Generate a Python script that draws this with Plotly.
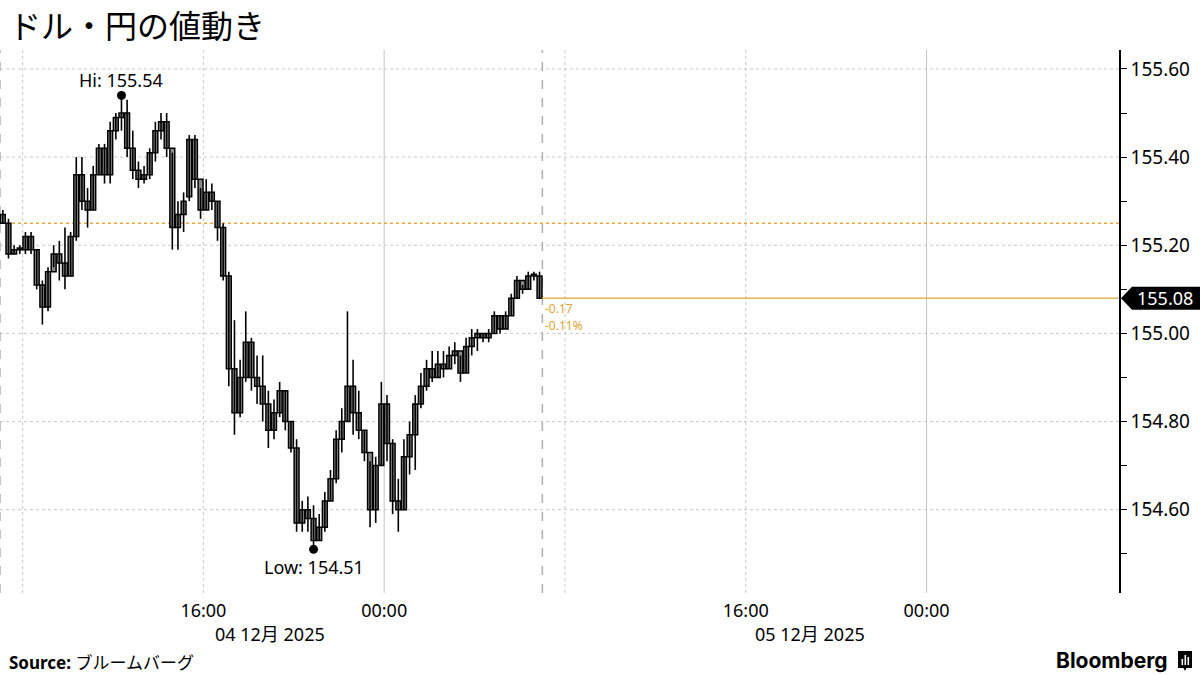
import plotly.graph_objects as go
import pandas as pd
import numpy as np

# ---------------- data (15-minute USD/JPY bars, 04 Dec 07:00 -> 05 Dec 07:00) ----------------
opens = [155.27, 155.25, 155.18, 155.19, 155.19, 155.22, 155.19, 155.11, 155.06, 155.14,
         155.18, 155.16, 155.13, 155.22, 155.36, 155.30, 155.28, 155.36, 155.42, 155.36,
         155.46, 155.49, 155.50, 155.42, 155.37, 155.35, 155.36, 155.41, 155.46, 155.48,
         155.42, 155.24, 155.27, 155.31, 155.44, 155.35, 155.28, 155.32, 155.30, 155.24,
         155.13, 154.92, 154.82, 154.90, 154.98, 154.90, 154.88, 154.84, 154.78, 154.82,
         154.87, 154.80, 154.74, 154.57, 154.60, 154.58, 154.53, 154.56, 154.62, 154.67,
         154.76, 154.80, 154.88, 154.82, 154.78, 154.73, 154.60, 154.70, 154.84, 154.75,
         154.62, 154.60, 154.72, 154.77, 154.84, 154.88, 154.92, 154.90, 154.93, 154.92,
         154.95, 154.96, 154.91, 154.97, 154.99, 155.00, 154.99, 155.00, 155.04, 155.01,
         155.04, 155.08, 155.12, 155.10, 155.13, 155.13]
highs = [155.28, 155.26, 155.20, 155.20, 155.23, 155.23, 155.19, 155.12, 155.15, 155.20,
         155.21, 155.24, 155.23, 155.40, 155.40, 155.33, 155.38, 155.43, 155.43, 155.48,
         155.50, 155.54, 155.53, 155.46, 155.39, 155.38, 155.42, 155.48, 155.50, 155.50,
         155.41, 155.30, 155.32, 155.45, 155.45, 155.33, 155.35, 155.34, 155.30, 155.25,
         155.14, 155.03, 154.94, 155.05, 154.99, 154.95, 154.95, 154.87, 154.85, 154.89,
         154.87, 154.80, 154.76, 154.62, 154.63, 154.61, 154.59, 154.64, 154.69, 154.78,
         154.83, 155.05, 154.94, 154.87, 154.78, 154.71, 154.72, 154.89, 154.86, 154.76,
         154.67, 154.76, 154.80, 154.86, 154.91, 154.94, 154.96, 154.96, 154.96, 154.97,
         154.98, 154.95, 154.99, 155.01, 155.01, 155.00, 155.01, 155.05, 155.04, 155.05,
         155.09, 155.13, 155.11, 155.14, 155.14, 155.14]
lows = [155.25, 155.17, 155.18, 155.18, 155.18, 155.18, 155.10, 155.02, 155.05, 155.15,
        155.12, 155.10, 155.13, 155.21, 155.28, 155.24, 155.28, 155.36, 155.34, 155.34,
        155.44, 155.46, 155.40, 155.35, 155.33, 155.34, 155.35, 155.39, 155.44, 155.40,
        155.19, 155.19, 155.23, 155.30, 155.33, 155.26, 155.28, 155.28, 155.21, 155.12,
        154.88, 154.77, 154.81, 154.89, 154.87, 154.84, 154.80, 154.74, 154.76, 154.81,
        154.78, 154.73, 154.55, 154.55, 154.55, 154.51, 154.53, 154.55, 154.62, 154.66,
        154.73, 154.80, 154.77, 154.76, 154.71, 154.56, 154.57, 154.70, 154.71, 154.59,
        154.55, 154.60, 154.68, 154.69, 154.83, 154.87, 154.89, 154.90, 154.90, 154.92,
        154.93, 154.89, 154.91, 154.95, 154.96, 154.98, 154.98, 155.00, 155.00, 155.01,
        155.04, 155.08, 155.09, 155.10, 155.12, 155.08]
closes = [155.25, 155.18, 155.19, 155.19, 155.22, 155.19, 155.11, 155.06, 155.14, 155.18,
          155.16, 155.13, 155.22, 155.36, 155.30, 155.28, 155.36, 155.42, 155.36, 155.46,
          155.49, 155.50, 155.42, 155.37, 155.35, 155.36, 155.41, 155.46, 155.48, 155.42,
          155.24, 155.27, 155.30, 155.44, 155.35, 155.28, 155.32, 155.30, 155.24, 155.13,
          154.92, 154.82, 154.90, 154.98, 154.90, 154.88, 154.84, 154.78, 154.82, 154.87,
          154.80, 154.74, 154.57, 154.60, 154.58, 154.53, 154.56, 154.62, 154.67, 154.76,
          154.80, 154.88, 154.82, 154.78, 154.73, 154.60, 154.70, 154.84, 154.75, 154.62,
          154.60, 154.72, 154.77, 154.84, 154.88, 154.92, 154.90, 154.93, 154.92, 154.95,
          154.96, 154.91, 154.97, 154.99, 155.00, 154.99, 155.00, 155.04, 155.01, 155.04,
          155.08, 155.12, 155.10, 155.13, 155.13, 155.08]

prev_close = 155.25
change_text = ["-0.17", "-0.11%"]
y_ticks = [154.60, 154.80, 155.00, 155.20, 155.40, 155.60]
y_minor = [154.50, 154.70, 154.90, 155.10, 155.30, 155.50]
x_ticks = ["2025-12-04 16:00", "2025-12-05 00:00", "2025-12-05 16:00", "2025-12-06 00:00"]
x_ticktext = ["16:00", "00:00", "16:00", "00:00"]
date_labels = ["04 12月 2025", "05 12月 2025"]
date_label_px = [270, 810]
session_lines = ["2025-12-04 07:00", "2025-12-05 07:00"]
dotted_vlines = ["2025-12-04 08:00", "2025-12-04 16:00", "2025-12-05 08:00", "2025-12-05 16:00"]
solid_vlines = ["2025-12-05 00:00", "2025-12-06 00:00"]

times = pd.date_range("2025-12-04 07:07:30", periods=len(closes), freq="15min")
last_time = pd.Timestamp("2025-12-05 06:58")
x_range = ["2025-12-04 07:00", "2025-12-06 08:31"]
y_range = [154.411, 155.643]

# ---------------- layout helpers (pixel -> paper) ----------------
W, H = 1200, 675
ML, MR, MT, MB = 0, 81, 50, 82
PW, PH = W - ML - MR, H - MT - MB


def px(x):
    return (x - ML) / PW


def py(y):
    return (H - MB - y) / PH


ORANGE_DOT = "#EBA53C"
ORANGE = "#DFA530"
GRID = "#c9c9c9"
FONT = "Noto Sans, Noto Sans CJK JP, sans-serif"

fig = go.Figure()

# wicks (high-low) as one line trace with gaps
wx, wy = [], []
for t, h, l in zip(times, highs, lows):
    wx += [t, t, None]
    wy += [h, l, None]
fig.add_trace(go.Scatter(x=wx, y=wy, mode="lines", line=dict(color="black", width=1.6),
                         hoverinfo="skip", showlegend=False, connectgaps=False))

# bodies
body_base = [min(o, c) for o, c in zip(opens, closes)]
body_h = [max(abs(c - o), 0.004) for o, c in zip(opens, closes)]
fig.add_trace(go.Bar(
    x=times, y=body_h, base=body_base, width=13 * 60 * 1000,
    marker=dict(color="#8a8a8a", line=dict(color="black", width=1.5)),
    hoverinfo="skip", showlegend=False,
))

# Hi / Low markers
hi_i = int(np.argmax(highs))
lo_i = int(np.argmin(lows))
fig.add_trace(go.Scatter(
    x=[times[hi_i], times[lo_i]], y=[highs[hi_i], lows[lo_i]],
    mode="markers", marker=dict(color="black", size=9),
    hoverinfo="skip", showlegend=False,
))

shapes = []
for v in y_ticks:
    shapes.append(dict(type="line", xref="paper", yref="y", x0=0, x1=1, y0=v, y1=v,
                       line=dict(color=GRID, width=1, dash="dot"), layer="below"))
for t in dotted_vlines:
    shapes.append(dict(type="line", xref="x", yref="paper", x0=t, x1=t, y0=0, y1=1,
                       line=dict(color=GRID, width=1, dash="dot"), layer="below"))
for t in solid_vlines:
    shapes.append(dict(type="line", xref="x", yref="paper", x0=t, x1=t, y0=0, y1=1,
                       line=dict(color="#c4c4c4", width=1), layer="below"))
for t in session_lines:
    shapes.append(dict(type="line", xref="x", yref="paper", x0=t, x1=t, y0=0, y1=1,
                       line=dict(color="#b0b0b0", width=1.5, dash="dash"), layer="below"))
shapes.append(dict(type="line", xref="paper", yref="y", x0=0, x1=1, y0=prev_close, y1=prev_close,
                   line=dict(color=ORANGE_DOT, width=1.6, dash="dot"), layer="below"))
shapes.append(dict(type="line", xref="x", yref="y", x0=last_time, x1=x_range[1],
                   y0=closes[-1], y1=closes[-1], line=dict(color=ORANGE, width=1.2)))
half = 11.5 / PH * (y_range[1] - y_range[0])
tip, shoulder, right = px(1121), px(1132), px(1200)
yl = closes[-1]
shapes.append(dict(type="path", xref="paper", yref="y",
                   path=f"M {tip},{yl} L {shoulder},{yl + half} L {right},{yl + half} "
                        f"L {right},{yl - half} L {shoulder},{yl - half} Z",
                   fillcolor="black", line=dict(width=0)))
# Bloomberg icon
shapes.append(dict(type="rect", xref="paper", yref="paper", x0=px(1178), x1=px(1192),
                   y0=py(668), y1=py(651), fillcolor="black", line=dict(width=0)))
shapes.append(dict(type="path", xref="paper", yref="paper",
                   path=f"M {px(1183)},{py(667)} L {px(1187)},{py(667)} L {px(1185)},{py(671)} Z",
                   fillcolor="black", line=dict(width=0)))
for bx, top in [(1181.5, 659), (1184.5, 655), (1187.5, 657)]:
    shapes.append(dict(type="rect", xref="paper", yref="paper", x0=px(bx), x1=px(bx + 1.6),
                       y0=py(665), y1=py(top), fillcolor="white", line=dict(width=0)))

annotations = [
    dict(text="ドル・円の値動き", x=px(7), y=py(24), xref="paper", yref="paper",
         xanchor="left", yanchor="middle", showarrow=False,
         font=dict(family="Noto Sans CJK JP", size=32, color="black")),
    dict(text=f"Hi: {highs[hi_i]:.2f}", x=times[hi_i], y=highs[hi_i], xref="x", yref="y",
         xanchor="center", yanchor="bottom", yshift=1, showarrow=False,
         font=dict(family=FONT, size=18, color="black")),
    dict(text=f"Low: {lows[lo_i]:.2f}", x=times[lo_i], y=lows[lo_i], xref="x", yref="y",
         xanchor="center", yanchor="top", yshift=-4, showarrow=False,
         font=dict(family=FONT, size=18, color="black")),
    dict(text=f"{closes[-1]:.2f}", x=px(1165), y=yl, xref="paper", yref="y",
         xanchor="center", yanchor="middle", showarrow=False,
         font=dict(family=FONT, size=18, color="white")),
    dict(text=change_text[0], x=last_time, y=yl, xref="x", yref="y", xanchor="left",
         yanchor="top", xshift=1, yshift=0, showarrow=False,
         font=dict(family=FONT, size=12, color=ORANGE)),
    dict(text=change_text[1], x=last_time, y=yl, xref="x", yref="y", xanchor="left",
         yanchor="top", xshift=1, yshift=-17, showarrow=False,
         font=dict(family=FONT, size=12, color=ORANGE)),
    dict(text="<b>Source:</b> ブルームバーグ", x=px(7), y=py(662), xref="paper", yref="paper",
         xanchor="left", yanchor="middle", showarrow=False,
         font=dict(family="Noto Sans, Noto Sans CJK JP", size=17, color="black")),
    dict(text="<b>Bloomberg</b>", x=px(1170), y=py(660), xref="paper", yref="paper",
         xanchor="right", yanchor="middle", showarrow=False,
         font=dict(family="Inter, Roboto, sans-serif", size=21, color="black")),
]
for lbl, cx in zip(date_labels, date_label_px):
    annotations.append(dict(text=lbl, x=px(cx), y=py(634), xref="paper", yref="paper",
                            xanchor="center", yanchor="middle", showarrow=False,
                            font=dict(family=FONT, size=18, color="black")))

fig.update_layout(
    width=W, height=H,
    margin=dict(l=ML, r=MR, t=MT, b=MB),
    paper_bgcolor="white", plot_bgcolor="white",
    shapes=shapes, annotations=annotations,
    barmode="overlay",
    xaxis=dict(range=x_range, type="date",
               tickmode="array", tickvals=x_ticks, ticktext=x_ticktext,
               showgrid=False, zeroline=False, showline=False, ticks="",
               ticklabelstandoff=5,
               tickfont=dict(family=FONT, size=18, color="black")),
    yaxis=dict(range=y_range, side="right", tickmode="array", tickvals=y_ticks,
               ticktext=[f"{v:.2f}" for v in y_ticks],
               showgrid=False, zeroline=False, showline=True, linecolor="black", linewidth=1.5,
               ticks="outside", ticklen=6, tickcolor="black", tickwidth=1,
               minor=dict(tickvals=y_minor, ticks="outside", ticklen=6, tickcolor="black"),
               tickfont=dict(family=FONT, size=19, color="black")),
    hovermode=False,
)

fig.write_html("out.html", config={"displayModeBar": False},
               post_script="document.body.style.margin='0px';")
